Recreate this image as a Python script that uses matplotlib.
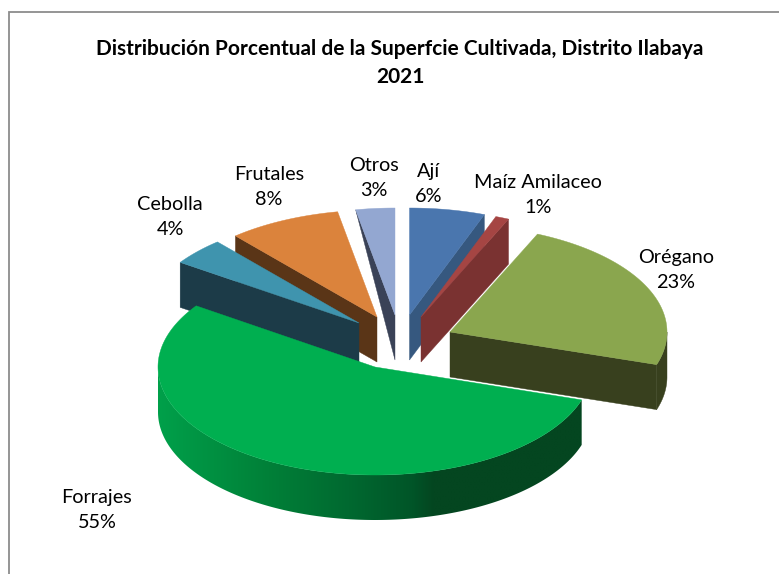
import numpy as np
import matplotlib
matplotlib.use("Agg")
import matplotlib.pyplot as plt
from matplotlib.patches import Polygon

title_lines = ["Distribución Porcentual de la Superfcie Cultivada, Distrito Ilabaya", "2021"]
categories = ["Ají", "Maíz Amilaceo", "Orégano", "Forrajes", "Cebolla", "Frutales", "Otros"]
values = [5.6, 1.0, 23.3, 54.6, 4.1, 8.4, 2.9]

top_colors = ["#4A76AE", "#A54543", "#8AA64E", "#00AF50", "#3F94AE", "#DB833C", "#93A7D1"]
wall_colors = ["#36587F", "#7A3231", "#38401E", "#005A28", "#1C3B48", "#5A3517", "#3A4257"]

# layout (pixel space of the figure)
RX, RY, DEPTH = 217, 107, 45
radius_override = {"Forrajes": (217, 108)}
apex = {"Ají": (409.5, 315), "Maíz Amilaceo": (421, 317), "Orégano": (450, 332), "Forrajes": (375, 367),
        "Cebolla": (359, 323), "Frutales": (377, 317), "Otros": (395, 315)}
label_pos = {"Ají": (429, 184), "Maíz Amilaceo": (538, 195), "Orégano": (676, 270), "Forrajes": (97, 510),
             "Cebolla": (170, 217), "Frutales": (269, 187), "Otros": (374, 178)}
draw_order = ["Otros", "Frutales", "Cebolla", "Ají", "Maíz Amilaceo", "Orégano", "Forrajes"]
rim_depth_start = {"Otros": 0}
FONT = "Lato"

fig = plt.figure(figsize=(7.79, 5.74), dpi=100, facecolor="white")
ax = fig.add_axes([0, 0, 1, 1])
ax.set_xlim(0, 779)
ax.set_ylim(574, 0)
ax.axis("off")

ax.plot([9.5, 9.5, 779], [574, 11.5, 11.5], color="#8C8C8C", lw=1.3, zorder=1, solid_joinstyle="miter")

fracs = np.array(values, dtype=float) / sum(values) * 360.0
ends = np.cumsum(fracs)
starts = ends - fracs


def rim(cx, cy, a0, a1, rx, ry, n=200):
    t = np.radians(np.linspace(a0, a1, n))
    return np.column_stack([cx + rx * np.sin(t), cy - ry * np.cos(t)])


z = 2
for name in draw_order:
    i = categories.index(name)
    a0, a1 = starts[i], ends[i]
    cx, cy = apex[name]
    rx, ry = radius_override.get(name, (RX, RY))

    # curved outer wall (front half only)
    lo, hi = max(a0, 90), min(a1, 270)
    if lo < hi:
        r = rim(cx, cy, lo, hi, rx, ry)
        wall = np.vstack([r, r[::-1] + [0, DEPTH]])
        if name == "Forrajes":
            poly = Polygon(wall, closed=True, fc="none", ec="none", zorder=z)
            ax.add_patch(poly)
            xs = np.linspace(0, 1, 256)
            stops_x = [0.0, 0.26, 0.45, 0.6, 0.65, 1.0]
            stops_c = np.array([[0, 160, 74], [0, 128, 56], [0, 105, 48], [0, 85, 40], [4, 70, 32], [4, 70, 32]]) / 255
            grad = np.stack([np.interp(xs, stops_x, stops_c[:, k]) for k in range(3)], axis=-1)[None, :, :]
            im = ax.imshow(grad, extent=[wall[:, 0].min(), wall[:, 0].max(), wall[:, 1].max(), wall[:, 1].min()],
                           aspect="auto", zorder=z, interpolation="bilinear")
            im.set_clip_path(poly)
        else:
            ax.add_patch(Polygon(wall, closed=True, fc=wall_colors[i], ec=wall_colors[i], lw=0.3, zorder=z))

    # cut faces
    if 180 < a0 < 360:
        p = rim(cx, cy, a0, a0, rx, ry, 1)[0]
        d = rim_depth_start.get(name, DEPTH)
        ax.add_patch(Polygon([p, p + [0, d], (cx, cy + DEPTH), (cx, cy)], closed=True,
                             fc=wall_colors[i], ec=wall_colors[i], lw=0.3, zorder=z))
    if 0 < a1 < 180:
        p = rim(cx, cy, a1, a1, rx, ry, 1)[0]
        ax.add_patch(Polygon([p, p + [0, DEPTH], (cx, cy + DEPTH), (cx, cy)], closed=True,
                             fc=wall_colors[i], ec=wall_colors[i], lw=0.3, zorder=z))

    # top surface
    top = np.vstack([[cx, cy], rim(cx, cy, a0, a1, rx, ry)])
    ax.add_patch(Polygon(top, closed=True, fc=top_colors[i], ec=top_colors[i], lw=0.3, zorder=z + 0.5))
    z += 1

ax.set_xlim(0, 779)
ax.set_ylim(574, 0)

for name, v in zip(categories, values):
    x, y = label_pos[name]
    ax.text(x, y, f"{name}\n{round(v)}%", ha="center", va="center", family=FONT, fontsize=14.3,
            color="black", linespacing=1.55, zorder=20)

ax.text(400, 49, title_lines[0], ha="center", va="center", family=FONT, fontsize=15, fontweight="bold",
        color="black", zorder=20)
ax.text(400, 77, title_lines[1], ha="center", va="center", family=FONT, fontsize=15, fontweight="bold",
        color="black", zorder=20)

fig.savefig("out.png", dpi=100, facecolor="white")
